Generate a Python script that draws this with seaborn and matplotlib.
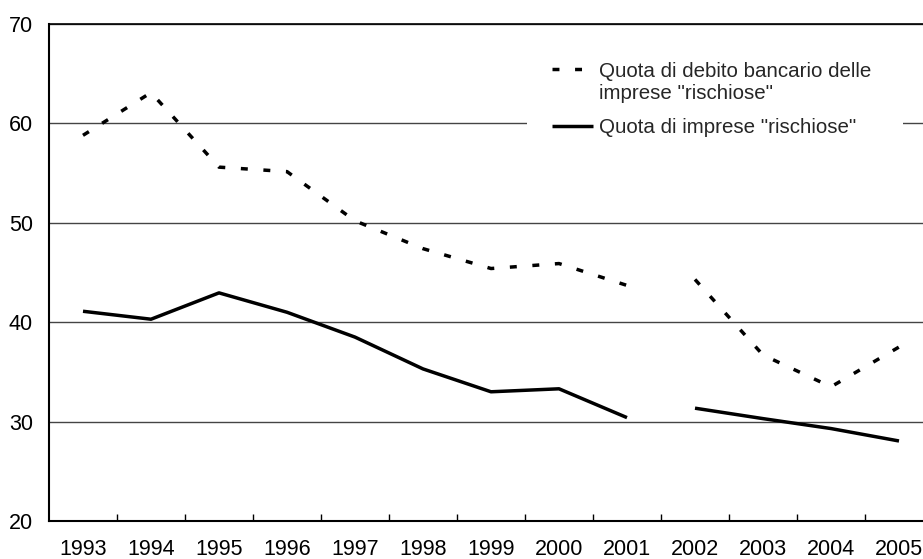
import numpy as np
import pandas as pd
import matplotlib
matplotlib.use("Agg")
import matplotlib.pyplot as plt
import matplotlib.transforms as mtransforms
import seaborn as sns
from matplotlib.lines import Line2D
from matplotlib.patches import Rectangle
from matplotlib.ticker import FixedLocator
from matplotlib.legend_handler import HandlerLine2D

years = ["1993", "1994", "1995", "1996", "1997", "1998", "1999",
         "2000", "2001", "2002", "2003", "2004", "2005"]
debt_share = [58.8, 63.1, 55.6, 55.15, 50.2, 47.4, 45.4, 45.9, 43.7,
              44.3, 36.7, 33.5, 37.5]
firm_share = [41.1, 40.3, 42.95, 41.0, 38.5, 35.3, 33.0, 33.3, 30.4,
              31.35, 30.3, 29.3, 28.05]
# the two series are interrupted between 2001 and 2002
segment = [0] * 9 + [1] * 4
label_debt = 'Quota di debito bancario delle\nimprese "rischiose"'
label_firm = 'Quota di imprese "rischiose"'
yticks = [20, 30, 40, 50, 60, 70]

sns.set_theme(style="white")
plt.rcParams["font.family"] = ["Liberation Sans", "DejaVu Sans"]

df = pd.DataFrame({"pos": np.arange(len(years)), "year": years,
                   "debt": debt_share, "firm": firm_share, "seg": segment})

fig = plt.figure(figsize=(9.23, 5.59), dpi=100)
ax = fig.add_axes([49 / 923, 38 / 559, 884 / 923, 497 / 559])

LW = 2.5
dash_pattern = (0, (2.0, 4.5))
for s, d in df.groupby("seg"):
    sns.lineplot(data=d, x="pos", y="debt", ax=ax, color="black", lw=LW,
                 linestyle=dash_pattern, dash_capstyle="butt",
                 estimator=None, sort=False)
    sns.lineplot(data=d, x="pos", y="firm", ax=ax, color="black", lw=LW,
                 solid_capstyle="butt", estimator=None, sort=False)

ax.set_xlim(-0.5, len(years) - 0.5)
ax.set_ylim(20, 70)
ax.set_xlabel("")
ax.set_ylabel("")

ax.set_yticks(yticks)
ax.set_yticklabels([str(v) for v in yticks])
ax.yaxis.grid(True, color="#444444", lw=1.0)
ax.set_axisbelow(True)

ax.set_xticks(np.arange(len(years)))
ax.set_xticklabels(years)
ax.xaxis.set_minor_locator(FixedLocator(np.arange(0.5, len(years) - 0.5, 1)))
ax.tick_params(axis="x", which="major", length=0, pad=13.2, labelsize=15.5,
               colors="black")
ax.tick_params(axis="x", which="minor", direction="in", length=5,
               width=1.0, color="black", bottom=True)
ax.tick_params(axis="y", length=0, pad=11.5, labelsize=15.5, colors="black")

for side in ["left", "top", "right", "bottom"]:
    ax.spines[side].set_visible(True)
    ax.spines[side].set_color("black")
ax.spines["left"].set_linewidth(1.5)
ax.spines["bottom"].set_linewidth(1.5)
ax.spines["top"].set_linewidth(1.2)

# white legend area hiding the gridline
to_ax = lambda px, py: ((px - 49) / 884, (521 - py) / 497)
x0, y1 = to_ax(527, 44)
x1, y0 = to_ax(903, 148)
ax.add_patch(Rectangle((x0, y0), x1 - x0, y1 - y0, transform=ax.transAxes,
                       facecolor="white", edgecolor="none", zorder=1))


class UpHandler(HandlerLine2D):
    def __init__(self, shift, **kw):
        super().__init__(**kw)
        self.shift = shift

    def create_artists(self, legend, orig_handle, xdescent, ydescent,
                       width, height, fontsize, trans):
        arts = super().create_artists(legend, orig_handle, xdescent, ydescent,
                                      width, height, fontsize, trans)
        t = mtransforms.Affine2D().translate(0, self.shift) + trans
        for a in arts:
            a.set_transform(t)
        return arts


h_debt = Line2D([], [], color="black", lw=LW, linestyle=dash_pattern,
                dash_capstyle="butt")
h_firm = Line2D([], [], color="black", lw=LW, solid_capstyle="butt")
ax.legend([h_debt, h_firm], [label_debt, label_firm],
          loc="upper left", bbox_to_anchor=to_ax(542, 52),
          frameon=False, fontsize=14.8, handlelength=2.0, handletextpad=0.25,
          labelspacing=0.74, borderpad=0.0,
          handler_map={h_debt: UpHandler(shift=10.5)})

fig.savefig("out.png", dpi=100)
